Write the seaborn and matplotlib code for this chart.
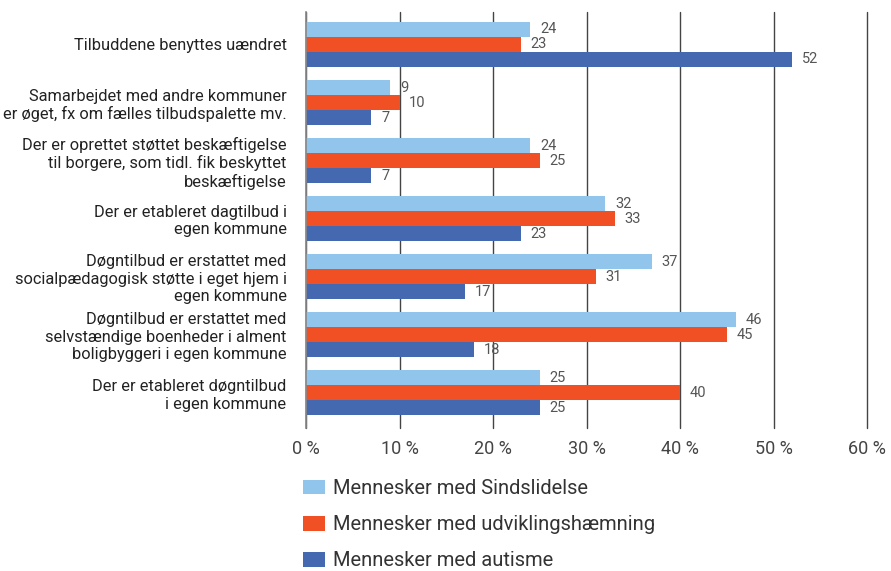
import matplotlib
matplotlib.use("Agg")
import matplotlib.pyplot as plt
import seaborn as sns
import pandas as pd

categories = [
    "Tilbuddene benyttes uændret",
    "Samarbejdet med andre kommuner\ner øget, fx om fælles tilbudspalette mv.",
    "Der er oprettet støttet beskæftigelse\ntil borgere, som tidl. fik beskyttet\nbeskæftigelse",
    "Der er etableret dagtilbud i\negen kommune",
    "Døgntilbud er erstattet med\nsocialpædagogisk støtte i eget hjem i\negen kommune",
    "Døgntilbud er erstattet med\nselvstændige boenheder i alment\nboligbyggeri i egen kommune",
    "Der er etableret døgntilbud\ni egen kommune",
]
series = ["Mennesker med Sindslidelse", "Mennesker med udviklingshæmning", "Mennesker med autisme"]
sindslidelse = [24, 9, 24, 32, 37, 46, 25]
udvikling = [23, 10, 25, 33, 31, 45, 40]
autisme = [52, 7, 7, 23, 17, 18, 25]
x_ticks = [0, 10, 20, 30, 40, 50, 60]
x_ticklabels = ["0 %", "10 %", "20 %", "30 %", "40 %", "50 %", "60 %"]
colors = ["#92C5EC", "#F05023", "#4469B1"]

rows = []
for s, vals in zip(series, [sindslidelse, udvikling, autisme]):
    for c, v in zip(categories, vals):
        rows.append({"cat": c, "series": s, "val": v})
df = pd.DataFrame(rows)

sns.set_style("white")
plt.rcParams["font.family"] = ["Roboto", "DejaVu Sans"]

fig = plt.figure(figsize=(8.91, 5.71), dpi=100)
ax = fig.add_axes([306/891, 1-428/571, (867-306)/891, (428-12)/571])

sns.barplot(data=df, x="val", y="cat", hue="series", order=categories, hue_order=series,
            palette=colors, orient="h", width=0.776, saturation=1, ax=ax, legend=True,
            edgecolor="none", linewidth=0)

for cont in ax.containers:
    ax.bar_label(cont, fmt="%d", padding=7, color="#555555", fontsize=10.5)

ax.set_xlim(0, 60)
ax.set_ylim(6.61, -0.56)
ax.set_xticks(x_ticks)
ax.set_xticklabels(x_ticklabels, fontsize=13, color="#444444")
ax.tick_params(axis="x", length=0, pad=9)
ax.tick_params(axis="y", length=0, pad=14, labelsize=11.8, labelcolor="#222222")
ax.set_xlabel("")
ax.set_ylabel("")
for lab in ax.get_yticklabels():
    lab.set_linespacing(1.2)
ax.grid(axis="x", color="#444444", linewidth=1.0)
ax.set_axisbelow(True)
for gl in ax.get_xgridlines():
    gl.set_clip_on(False)
for side in ["top", "right", "bottom"]:
    ax.spines[side].set_visible(False)
ax.spines["left"].set_color("#888888")
ax.spines["left"].set_linewidth(1.2)

handles, labels = ax.get_legend_handles_labels()
ax.get_legend().remove()
fig.legend(handles, labels, loc="upper left", bbox_to_anchor=(295/891, 1-471/571),
           frameon=False, fontsize=14.5, labelcolor="#333333", handlelength=1.1,
           handleheight=0.75, handletextpad=0.4, labelspacing=0.85, borderaxespad=0)

fig.savefig("out.png", dpi=100)
